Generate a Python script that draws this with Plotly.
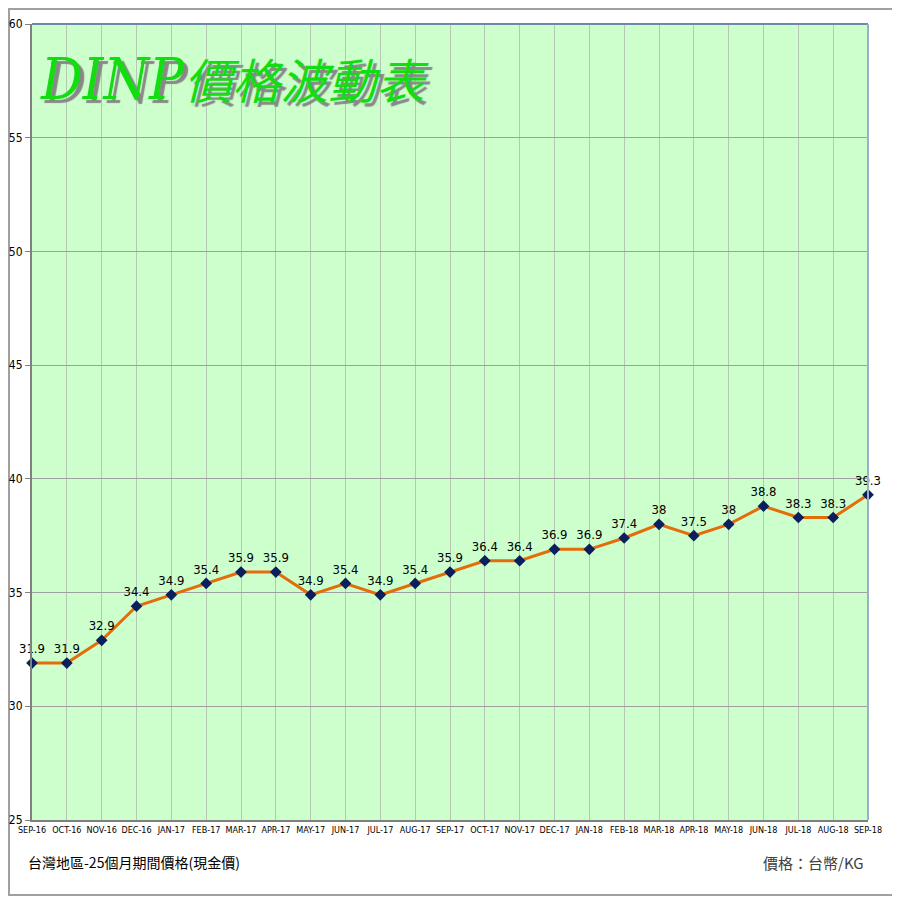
import plotly.graph_objects as go

months = ["SEP-16", "OCT-16", "NOV-16", "DEC-16", "JAN-17", "FEB-17", "MAR-17", "APR-17",
          "MAY-17", "JUN-17", "JUL-17", "AUG-17", "SEP-17", "OCT-17", "NOV-17", "DEC-17",
          "JAN-18", "FEB-18", "MAR-18", "APR-18", "MAY-18", "JUN-18", "JUL-18", "AUG-18", "SEP-18"]
prices = [31.9, 31.9, 32.9, 34.4, 34.9, 35.4, 35.9, 35.9, 34.9, 35.4, 34.9, 35.4, 35.9,
          36.4, 36.4, 36.9, 36.9, 37.4, 38, 37.5, 38, 38.8, 38.3, 38.3, 39.3]
y_ticks = [25, 30, 35, 40, 45, 50, 55, 60]

title_latin = "DINP"
title_cjk = "價格波動表"
footer_left = "台灣地區-25個月期間價格(現金價)"
footer_right = "價格：台幣/KG"

narrow = "DejaVu Sans Condensed, Liberation Sans Narrow, Arial Narrow, Liberation Sans, sans-serif"

idx = list(range(len(months)))
fig = go.Figure()
fig.add_trace(go.Scatter(
    x=idx, y=prices, mode="lines+markers+text",
    line=dict(color="#E46C0A", width=3),
    marker=dict(symbol="diamond", size=9, color="#0A1F5C"),
    text=[f"{v:g}" for v in prices], textposition="top center",
    textfont=dict(family=narrow, size=13, color="#000000"),
    cliponaxis=False, showlegend=False,
))

# plot area occupies page pixels 32..868 (x) and 24..820 (y); page offset 8px
W0, H0 = 836, 796
def px_x(p): return (p - 32) / W0
def px_y(p): return (820 - p) / H0

title_html = ("<i><span style='font-family:DejaVu Serif Condensed, Liberation Serif, serif;font-size:58px'>"
              + title_latin + "</span>" + title_cjk + "</i>")

fig.update_layout(
    width=900, height=900,
    margin=dict(l=24, r=40, t=16, b=88),
    paper_bgcolor="#FFFFFF", plot_bgcolor="#CCFFCC",
    xaxis=dict(range=[0, len(months) - 1], tickmode="array", tickvals=idx, ticktext=months,
               tickangle=0, showgrid=True, gridcolor="#B4C8B4", gridwidth=1, automargin=False,
               showline=True, linecolor="#808080", linewidth=2, mirror=False,
               tickfont=dict(family=narrow, size=9, color="#000000"), ticks="", zeroline=False),
    yaxis=dict(range=[25, 60], tickmode="array", tickvals=y_ticks, automargin=False,
               showgrid=True, gridcolor="#A0A0A0", gridwidth=1,
               showline=True, linecolor="#808080", linewidth=2, mirror=False,
               ticks="outside", ticklen=5, tickcolor="#808080",
               tickfont=dict(family=narrow, size=12, color="#000000"), zeroline=False),
    shapes=[
        dict(type="rect", xref="paper", yref="paper", x0=px_x(9), x1=px_x(895), y0=px_y(895), y1=px_y(9),
             line=dict(color="#A0A0A0", width=2), fillcolor="rgba(0,0,0,0)", layer="below"),
        dict(type="line", xref="paper", yref="paper", x0=0, x1=1, y0=1, y1=1,
             line=dict(color="#6A8AA8", width=2)),
        dict(type="line", xref="paper", yref="paper", x0=1, x1=1, y0=0, y1=1,
             line=dict(color="#9AB0C8", width=2)),
    ],
    annotations=[
        dict(text=title_html, xref="paper", yref="paper",
             x=px_x(38), y=px_y(78), xanchor="left", yanchor="middle", showarrow=False,
             font=dict(family="Noto Sans CJK TC, sans-serif", size=48, color="#11DD11",
                       shadow="4px 4px 1px #888888")),
        dict(text=footer_left, xref="paper", yref="paper", x=px_x(26), y=px_y(862),
             xanchor="left", yanchor="middle", showarrow=False,
             font=dict(family="Noto Sans CJK TC, sans-serif", size=14, color="#000000")),
        dict(text=footer_right, xref="paper", yref="paper", x=px_x(866), y=px_y(862),
             xanchor="right", yanchor="middle", showarrow=False,
             font=dict(family="Noto Sans CJK TC, sans-serif", size=15, color="#404040")),
    ],
)

fig.write_html("out.html")
